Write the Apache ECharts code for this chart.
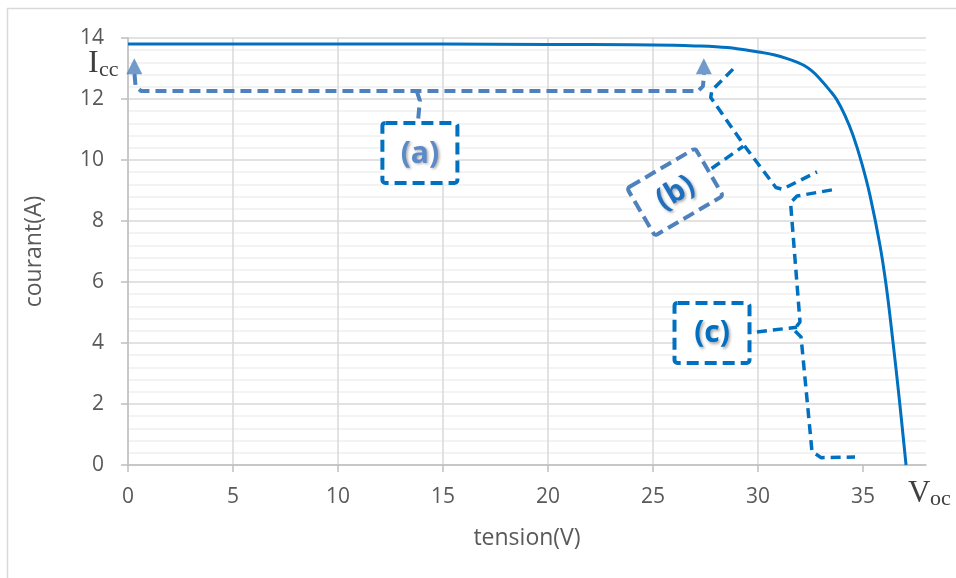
<!DOCTYPE html>
<html>
<head>
<meta charset="utf-8">
<script src="https://cdn.jsdelivr.net/npm/echarts@6/dist/echarts.min.js"></script>
<style>
  html, body { margin: 0; padding: 0; background: #fff; }
  #chart { width: 956px; height: 578px; }
</style>
</head>
<body>
<div id="chart"></div>
<script>
// courbe I-V du module
const tension = [0, 5, 10, 15, 20, 24, 26, 27, 28, 29, 29.95, 30.8, 31.5, 31.85, 32.2, 32.55, 32.9, 33.4, 33.75, 34.15, 34.52, 34.94, 35.33, 35.81, 36.1, 36.4, 36.73, 37.05]
const courant = [13.8, 13.8, 13.8, 13.8, 13.79, 13.78, 13.76, 13.74, 13.71, 13.65, 13.55, 13.44, 13.3, 13.21, 13.1, 12.93, 12.7, 12.3, 11.98, 11.45, 10.82, 9.9, 8.85, 7.2, 5.9, 4.2, 2.15, 0]
const xTicks = [0, 5, 10, 15, 20, 25, 30, 35]

// annotations (coordonnées en V, A)
const pathA = [[0.31, 12.82], [0.36, 12.42], [0.62, 12.26], [13.75, 12.26], [27.15, 12.26], [27.38, 12.42], [27.43, 12.82]]
const stemA = [[13.75, 12.26], [13.9, 11.95], [13.8, 11.2]]
const arrowTips = [[0.3, 13.07], [27.42, 13.07]]
const braceB = [[28.81, 12.98], [27.8, 12.28], [27.75, 12.05], [29.33, 10.49], [30.85, 9.1], [31.15, 9.04], [32.81, 9.61]]
const linkB = [[27.79, 9.72], [29.3, 10.45]]
const braceC = [[33.52, 9.02], [31.86, 8.82], [31.55, 8.6], [32.0, 4.69], [31.71, 4.43], [32.05, 4.2], [32.57, 0.45], [33.0, 0.24], [34.62, 0.26]]
const linkC = [[29.95, 4.36], [31.86, 4.52]]
const boxes = [
  { label: '(a)', center: [13.9, 10.23], size: [75, 60], angle: 0, stroke: '#0070c0', color: '#5b8ac8' },
  { label: '(b)', center: [26.05, 8.95], size: [79, 55], angle: 30.4, stroke: '#4f81bd', color: '#1f6fbf' },
  { label: '(c)', center: [27.81, 4.33], size: [75, 60], angle: 0, stroke: '#0070c0', color: '#0070c0' }
]

const chart = echarts.init(document.getElementById('chart'))

function dashLine (name, data, color, width, dash) {
  return {
    name: name,
    type: 'line',
    data: data,
    showSymbol: false,
    silent: true,
    z: 3,
    lineStyle: { color: color, width: width, type: dash, cap: 'butt' }
  }
}

const option = {
  animation: false,
  backgroundColor: '#fff',
  textStyle: { fontFamily: 'Open Sans' },
  grid: { left: 128, right: 30, top: 38, bottom: 113 },
  xAxis: {
    type: 'value',
    min: 0,
    max: 38,
    interval: 5,
    name: 'tension(V)',
    nameLocation: 'middle',
    nameGap: 62,
    nameTextStyle: { fontSize: 23, color: '#595959' },
    axisLine: { show: true, lineStyle: { color: '#bfbfbf', width: 1.5 } },
    axisTick: { show: true, length: 7, customValues: xTicks, lineStyle: { color: '#bfbfbf', width: 1.5 } },
    axisLabel: { customValues: xTicks, fontSize: 21, color: '#595959', margin: 22 },
    splitLine: { show: true, showMaxLine: false, lineStyle: { color: '#d9d9d9', width: 1.5 } }
  },
  yAxis: {
    type: 'value',
    min: 0,
    max: 14,
    interval: 2,
    name: 'courant(A)',
    nameLocation: 'middle',
    nameGap: 82,
    nameTextStyle: { fontSize: 23, color: '#595959' },
    axisLine: { show: true, lineStyle: { color: '#bfbfbf', width: 1.5 } },
    axisTick: { show: true, length: 7, lineStyle: { color: '#bfbfbf', width: 1.5 } },
    axisLabel: { fontSize: 21, color: '#595959', margin: 24 },
    splitLine: { show: true, lineStyle: { color: '#d9d9d9', width: 1.5 } },
    minorTick: { show: false, splitNumber: 5 },
    minorSplitLine: { show: true, lineStyle: { color: '#efefef', width: 1.5 } }
  },
  series: [
    {
      name: 'I-V',
      type: 'line',
      data: tension.map((v, i) => [v, courant[i]]),
      smooth: 0.4,
      showSymbol: false,
      z: 4,
      lineStyle: { color: '#0070c0', width: 3 }
    },
    dashLine('a', pathA, '#4f81bd', 4, [11, 6]),
    dashLine('a2', stemA, '#4f81bd', 4, [11, 6]),
    dashLine('b', braceB, '#0070c0', 3.5, [10, 6]),
    dashLine('b2', linkB, '#0070c0', 3.5, [10, 6]),
    dashLine('c', braceC, '#0070c0', 3.5, [10, 6]),
    dashLine('c2', linkC, '#0070c0', 3.5, [10, 6]),
    {
      name: 'fleches',
      type: 'scatter',
      data: arrowTips,
      symbol: 'triangle',
      symbolSize: [16, 16],
      silent: true,
      z: 4,
      itemStyle: { color: '#4f81bd' }
    }
  ]
}
chart.setOption(option)

// cadres (a) (b) (c) et libellés Icc / Voc
const graphics = [
  {
    type: 'rect',
    shape: { x: 7.5, y: 8.5, width: 960, height: 600 },
    style: { fill: 'none', stroke: '#d9d9d9', lineWidth: 1.5 },
    z: 0
  },
  { type: 'text', x: 88, y: 64, style: { text: 'I', font: '32px "Liberation Serif"', fill: '#404040', verticalAlign: 'middle' } },
  { type: 'text', x: 99, y: 70, style: { text: 'cc', font: '22px "Liberation Serif"', fill: '#404040', verticalAlign: 'middle' } },
  { type: 'text', x: 908, y: 494, style: { text: 'V', font: '31px "Liberation Serif"', fill: '#404040', verticalAlign: 'middle' } },
  { type: 'text', x: 930, y: 499, style: { text: 'oc', font: '22px "Liberation Serif"', fill: '#404040', verticalAlign: 'middle' } }
]
boxes.forEach(b => {
  const p = chart.convertToPixel({ gridIndex: 0 }, b.center)
  graphics.push({
    type: 'group',
    x: p[0],
    y: p[1],
    rotation: b.angle * Math.PI / 180,
    z: 10,
    children: [
      {
        type: 'rect',
        shape: { x: -b.size[0] / 2, y: -b.size[1] / 2, width: b.size[0], height: b.size[1], r: 3 },
        style: { fill: '#fff', stroke: b.stroke, lineWidth: 4, lineDash: [12, 6] }
      },
      {
        type: 'text',
        x: 0,
        y: 1,
        style: {
          text: b.label,
          font: 'bold 30px "Open Sans"',
          fill: b.color,
          align: 'center',
          verticalAlign: 'middle',
          textShadowColor: 'rgba(0,0,0,0.35)',
          textShadowBlur: 3,
          textShadowOffsetX: 1.5,
          textShadowOffsetY: 1.5
        }
      }
    ]
  })
})
chart.setOption({ graphic: graphics })
</script>
</body>
</html>
